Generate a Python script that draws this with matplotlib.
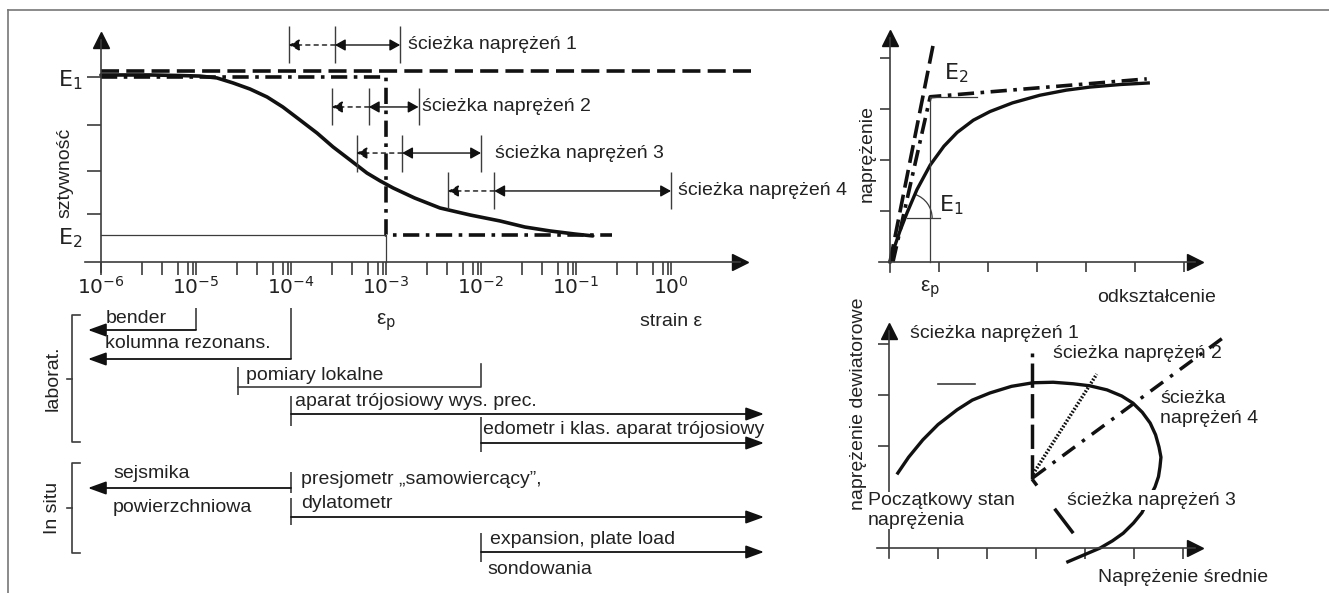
import numpy as np
import matplotlib.pyplot as plt
from matplotlib.patches import Arc
from matplotlib.ticker import FixedLocator, NullFormatter

plt.rcParams['font.family'] = ['Liberation Sans', 'DejaVu Sans']
plt.rcParams['mathtext.fontset'] = 'dejavusans'

W, H = 1329, 593
INK = '#111111'
GREY = '#3c3c3c'
TXT = '#222222'

# --- stiffness vs strain (left, top) ---
curve_strain = [1.0e-6, 3.3e-6, 6.8e-6, 1.1e-5, 1.66e-5, 2.45e-5, 3.7e-5, 5.6e-5,
                8.2e-5, 1.24e-4, 1.88e-4, 2.77e-4, 4.2e-4, 6.3e-4, 8.7e-4, 1.19e-3,
                2.0e-3, 3.7e-3, 7.7e-3, 1.58e-2, 2.9e-2, 5.3e-2, 9.8e-2, 1.5e-1]
curve_stiff = [10.11, 10.11, 10.08, 10.05, 9.95, 9.68, 9.35, 8.92,
               8.38, 7.68, 6.97, 6.22, 5.51, 4.81, 4.38, 4.00,
               3.46, 2.92, 2.54, 2.22, 1.89, 1.68, 1.51, 1.41]
E1, E2 = 10.0, 1.46
eps_p = 1e-3
secant_level, secant_end = 10.32, 7.2
bilin_end = 0.24
stiff_ticks = [2.6, 4.9, 7.4]
decades = [1e-6, 1e-5, 1e-4, 1e-3, 1e-2, 1e-1, 1e0]
decade_labels = [r'$10^{-6}$', r'$10^{-5}$', r'$10^{-4}$', r'$10^{-3}$',
                 r'$10^{-2}$', r'$10^{-1}$', r'$10^{0}$']
minor_subs = [2.7, 4.4, 6.5, 8.2, 9.3]

# stress path strain ranges
path_names = ['ścieżka naprężeń 1', 'ścieżka naprężeń 2',
              'ścieżka naprężeń 3', 'ścieżka naprężeń 4']
path_level = [11.73, 8.38, 5.89, 3.84]
path_lo = [9.5e-5, 2.7e-4, 4.9e-4, 4.5e-3]
path_mid = [2.9e-4, 6.6e-4, 1.48e-3, 1.38e-2]
path_hi = [1.41e-3, 2.2e-3, 1e-2, 1.0]
path_text_x = [1.71e-3, 2.39e-3, 1.4e-2, 1.19]

# --- stress-strain (right, top) ---
ss_strain = [0, 0.1, 0.2, 0.35, 0.55, 0.82, 1.1, 1.37, 1.7, 2.04, 2.5, 3.06, 3.6, 4.08, 4.7, 5.27]
ss_stress = [0, 0.32, 0.6, 0.97, 1.42, 1.9, 2.27, 2.54, 2.78, 2.95, 3.12, 3.27, 3.37, 3.43, 3.48, 3.51]
tangent_x = [0, 0.90]
tangent_y = [0, 4.35]
bilin_x = [0.06, 0.82, 5.24]
bilin_y = [0, 3.24, 3.59]
ss_eps_p = 0.82

# --- p-q plane (right, bottom) ---
yield_p = [0.18, 0.4, 0.69, 1.0, 1.39, 1.7, 2.06, 2.5, 2.94, 3.35, 3.76, 4.1, 4.45, 4.75,
           4.98, 5.17, 5.33, 5.44, 5.51, 5.55, 5.53, 5.50, 5.43, 5.29, 5.16, 4.99, 4.78,
           4.56, 4.31, 3.65]
yield_q = [1.47, 1.78, 2.12, 2.42, 2.71, 2.9, 3.04, 3.17, 3.24, 3.25, 3.22, 3.18, 3.10, 2.98,
           2.84, 2.66, 2.45, 2.22, 1.98, 1.78, 1.59, 1.40, 1.20, 0.94, 0.69, 0.49, 0.29,
           0.14, 0.0, -0.27]
p0, q0 = 2.92, 1.35
sp1_end = (2.92, 3.82)
sp2_end = (4.24, 3.41)
sp3_end = (3.76, 0.29)
sp4_end = (6.90, 4.18)

fig = plt.figure(figsize=(W / 100, H / 100), dpi=100)


def axes_px(left, top, right, bottom):
    return fig.add_axes([left / W, 1 - bottom / H, (right - left) / W, (bottom - top) / H])


def ftext(x, y, s, **kw):
    kw.setdefault('fontsize', 14)
    kw.setdefault('color', TXT)
    fig.text(x / W, 1 - y / H, s, **kw)


def e_at(px):
    return 10 ** (-6 + (px - 101) / 95)


def arrow_axes(ax, xcross, ycross, ms=11):
    for s in ['top', 'right']:
        ax.spines[s].set_visible(False)
    ax.spines['left'].set_position(('data', xcross))
    ax.spines['bottom'].set_position(('data', ycross))
    for s in ['left', 'bottom']:
        ax.spines[s].set_color(GREY)
        ax.spines[s].set_linewidth(1.2)
    ax.plot([xcross], [1], '^', color=INK, ms=ms, transform=ax.get_xaxis_transform(), clip_on=False)
    ax.plot([1], [ycross], '>', color=INK, ms=ms, transform=ax.get_yaxis_transform(), clip_on=False)
    ax.patch.set_alpha(0)


EPS_P = 'ε$_\\mathrm{p}$'

# frame
fig.add_artist(plt.Line2D([8 / W, 1], [1 - 10 / H] * 2, color='#777777', lw=1.2))
fig.add_artist(plt.Line2D([8 / W] * 2, [0, 1 - 10 / H], color='#777777', lw=1.2))

# ---------------- left top ----------------
ax1 = axes_px(85, 40, 740, 272)
ax1.set_xscale('log')
ax1.set_xlim(e_at(85), e_at(740))
ax1.set_ylim((262 - 272) / 18.5, (262 - 40) / 18.5)
arrow_axes(ax1, 1e-6, 0)

ax1.xaxis.set_major_locator(FixedLocator(decades))
ax1.set_xticklabels(decade_labels)
ax1.xaxis.set_minor_locator(FixedLocator([d * s for d in decades[:-1] for s in minor_subs]))
ax1.xaxis.set_minor_formatter(NullFormatter())
ax1.tick_params(axis='x', which='both', direction='out', length=9, width=1.2, color=GREY,
                labelsize=14.5, pad=1, labelcolor=TXT)
ax1.set_yticks([E2] + stiff_ticks + [E1])
ax1.set_yticklabels([r'$\mathrm{E}_2$', '', '', '', r'$\mathrm{E}_1$'])
ax1.tick_params(axis='y', direction='out', length=10, width=1.2, color=GREY,
                labelsize=16, pad=3, labelcolor=TXT)
ax1.yaxis.get_major_ticks()[0].tick1line.set_visible(False)

ax1.plot([1e-6, secant_end], [secant_level] * 2, color=INK, lw=2.6,
         ls=(0, (5, 2)), clip_on=False)
ax1.plot([1e-6, eps_p, eps_p, bilin_end], [E1, E1, E2, E2], color=INK, lw=2.6,
         ls=(0, (4.5, 1.8, 1, 1.8)), clip_on=False)
ax1.plot([1e-6, eps_p, eps_p], [E2, E2, 0], color=GREY, lw=0.9)
ax1.plot(curve_strain, curve_stiff, color=INK, lw=2.6, solid_capstyle='round')

for name, y, lo, mid, hi, tx in zip(path_names, path_level, path_lo, path_mid, path_hi, path_text_x):
    ax1.vlines([lo, mid, hi], y - 1.0, y + 1.0, color=GREY, lw=1.0, clip_on=False)
    ax1.annotate('', xy=(lo, y), xytext=(mid, y),
                 arrowprops=dict(arrowstyle='-|>,head_length=0.45,head_width=0.25', mutation_scale=14,
                                 color=INK, lw=1.0, ls=(0, (3, 3)), shrinkA=0, shrinkB=0),
                 annotation_clip=False)
    ax1.annotate('', xy=(hi, y), xytext=(mid, y),
                 arrowprops=dict(arrowstyle='<|-|>,head_length=0.45,head_width=0.25', mutation_scale=14,
                                 color=INK, lw=1.0, shrinkA=0, shrinkB=0),
                 annotation_clip=False)
    ax1.text(tx, y, name, fontsize=14, color=TXT, va='center', ha='left', clip_on=False)

ftext(65, 173, 'sztywność', rotation=90, ha='center', va='center')

# ---------------- left bottom (test ranges) ----------------
ax2 = axes_px(40, 295, 740, 585)
ax2.set_xscale('log')
ax2.set_xlim(e_at(40), e_at(740))
ax2.set_ylim(0, 29)
ax2.axis('off')

tip_left, tip_right = e_at(88), e_at(764)
head = dict(arrowstyle='-|>,head_length=0.55,head_width=0.2', mutation_scale=20,
            color=INK, lw=1.3, shrinkA=0, shrinkB=0)


def range_arrow(x0, x1, y, tick_lo, tick_hi):
    ax2.annotate('', xy=(x1, y), xytext=(x0, y), arrowprops=head, annotation_clip=False)
    ax2.vlines(x0, tick_lo, tick_hi, color=GREY, lw=1.2, clip_on=False)


ax2.text(eps_p, 26.3, EPS_P, fontsize=15, ha='center', va='center', color=TXT)
ax2.text(1.0, 26.3, 'strain ε', fontsize=14, ha='center', va='center', color=TXT)

range_arrow(1e-5, tip_left, 25.5, 25.5, 27.7)
ax2.text(1.13e-6, 26.6, 'bender', fontsize=14, va='center', color=TXT)
range_arrow(1e-4, tip_left, 22.6, 22.6, 27.7)
ax2.text(1.1e-6, 24.2, 'kolumna rezonans.', fontsize=14, va='center', color=TXT)

ax2.plot([2.77e-5, 1e-2, 1e-2], [19.8, 19.8, 22.1], color=GREY, lw=1.2, clip_on=False)
ax2.vlines(2.77e-5, 19.0, 21.8, color=GREY, lw=1.2)
ax2.text(3.4e-5, 21.0, 'pomiary lokalne', fontsize=14, va='center', color=TXT)

range_arrow(1e-4, tip_right, 17.1, 15.9, 18.9)
ax2.text(1.1e-4, 18.4, 'aparat trójosiowy wys. prec.', fontsize=14, va='center', color=TXT)
range_arrow(1e-2, tip_right, 14.2, 13.3, 16.8)
ax2.text(1.05e-2, 15.6, 'edometr i klas. aparat trójosiowy', fontsize=14, va='center', color=TXT)

range_arrow(1e-4, tip_left, 9.7, 9.2, 11.3)
ax2.text(1.34e-6, 11.1, 'sejsmika', fontsize=14, va='center', color=TXT)
ax2.text(1.34e-6, 7.8, 'powierzchniowa', fontsize=14, va='center', color=TXT)
range_arrow(1e-4, tip_right, 6.8, 6.0, 8.7)
ax2.text(1.27e-4, 10.5, 'presjometr „samowiercący”,', fontsize=14, va='center', color=TXT)
ax2.text(1.27e-4, 8.2, 'dylatometr', fontsize=14, va='center', color=TXT)
range_arrow(1e-2, tip_right, 3.3, 2.3, 5.2)
ax2.text(1.23e-2, 4.5, 'expansion, plate load', fontsize=14, va='center', color=TXT)
ax2.text(1.17e-2, 1.5, 'sondowania', fontsize=14, va='center', color=TXT)

for lo, hi, label in [(14.3, 27.0, 'laborat.'), (3.2, 12.2, 'In situ')]:
    bx, sx, mx = e_at(72), e_at(80), e_at(67)
    mid = (lo + hi) / 2
    ax2.plot([sx, bx, bx, sx], [hi, hi, lo, lo], color=GREY, lw=1.2, clip_on=False)
    ax2.plot([bx, mx], [mid, mid], color=GREY, lw=1.2, clip_on=False)
    ax2.text(e_at(53), mid, label, rotation=90, fontsize=14, ha='center', va='center', color=TXT)

# ---------------- right top ----------------
ax3 = axes_px(879, 38, 1195, 272)
ax3.set_xlim((879 - 890) / 49, (1195 - 890) / 49)
ax3.set_ylim((262 - 272) / 51, (262 - 38) / 51)
arrow_axes(ax3, 0, 0)
ax3.set_xticks([1, 2, 3, 4, 5, 6])
ax3.set_yticks([1, 2, 3, 4])
ax3.set_xticklabels([])
ax3.set_yticklabels([])
ax3.tick_params(direction='out', length=7, width=1.2, color=GREY)

ax3.plot(tangent_x, tangent_y, color=INK, lw=2.6, ls=(0, (5, 2)), clip_on=False)
ax3.plot(bilin_x, bilin_y, color=INK, lw=2.6, ls=(0, (4.5, 1.8, 1, 1.8)), clip_on=False)
ax3.plot(ss_strain, ss_stress, color=INK, lw=2.4)
ax3.plot([ss_eps_p, ss_eps_p, 1.78], [0, bilin_y[1], bilin_y[1]], color=GREY, lw=0.9)
ax3.plot([0.35, 1.02], [0.86, 0.86], color=GREY, lw=0.9)
ax3.add_patch(Arc((0.35, 0.86), 2 * 25 / 49, 2 * 25 / 51, theta1=0, theta2=70, color=GREY, lw=0.9))
ax3.text(1.0, 1.12, r'$\mathrm{E}_1$', fontsize=16, color=TXT, va='center')
ax3.text(1.1, 3.7, r'$\mathrm{E}_2$', fontsize=16, color=TXT, va='center')
ftext(930, 289, EPS_P, fontsize=15, ha='center', va='center')
ftext(1097, 297, 'odkształcenie', va='center')
ftext(867, 153, 'naprężenie', rotation=90, ha='center', va='center')

# ---------------- right bottom ----------------
ax4 = axes_px(877, 331, 1195, 558)
ax4.set_xlim((877 - 889) / 49, (1195 - 889) / 49)
ax4.set_ylim((548 - 558) / 51, (548 - 331) / 51)
arrow_axes(ax4, 0, 0)
ax4.set_xticks([1, 2, 3, 4, 5, 6])
ax4.set_yticks([2, 3, 4])
ax4.set_xticklabels([])
ax4.set_yticklabels([])
ax4.tick_params(direction='out', length=8, width=1.2, color=GREY)

ax4.plot(yield_p, yield_q, color=INK, lw=2.4, clip_on=False, zorder=2)
ax4.plot([1.0, 1.76], [3.22, 3.22], color=GREY, lw=1.2)
ax4.plot([p0, sp1_end[0]], [q0, sp1_end[1]], color=INK, lw=2.5, ls=(0, (7, 1.8)))
ax4.plot([p0 + 0.02, sp2_end[0]], [q0 + 0.1, sp2_end[1]], color=INK, lw=2.5, ls=(0, (0.5, 0.5)))
ax4.plot([p0 + 0.02, sp4_end[0]], [q0 + 0.03, sp4_end[1]], color=INK, lw=2.5,
         ls=(0, (4.5, 2.5, 1, 2.5)), clip_on=False)
ax4.plot([p0, sp3_end[0]], [q0, sp3_end[1]], color=INK, lw=2.5, ls=(0, (2.3, 8.4, 8.9, 20)))

ax4.text(0.43, 4.2, 'ścieżka naprężeń 1', fontsize=14, color=TXT, va='center', clip_on=False)
ax4.text(3.35, 3.82, 'ścieżka naprężeń 2', fontsize=14, color=TXT, va='center', clip_on=False)
ax4.text(5.53, 2.73, 'ścieżka\nnaprężeń 4', fontsize=14, color=TXT, va='center',
         linespacing=1.25, clip_on=False)
ax4.text(3.63, 0.94, 'ścieżka naprężeń 3', fontsize=14, color=TXT, va='center', zorder=3,
         bbox=dict(facecolor='white', edgecolor='none', pad=1))
ax4.text(-0.43, 0.73, 'Początkowy stan\nnaprężenia', fontsize=14, color=TXT, va='center',
         linespacing=1.25, zorder=3, bbox=dict(facecolor='white', edgecolor='none', pad=0),
         clip_on=False)
ftext(1098, 577, 'Naprężenie średnie', va='center')
ftext(858, 404, 'naprężenie dewiatorowe', rotation=90, ha='center', va='center')

fig.savefig('out.png', dpi=100)
